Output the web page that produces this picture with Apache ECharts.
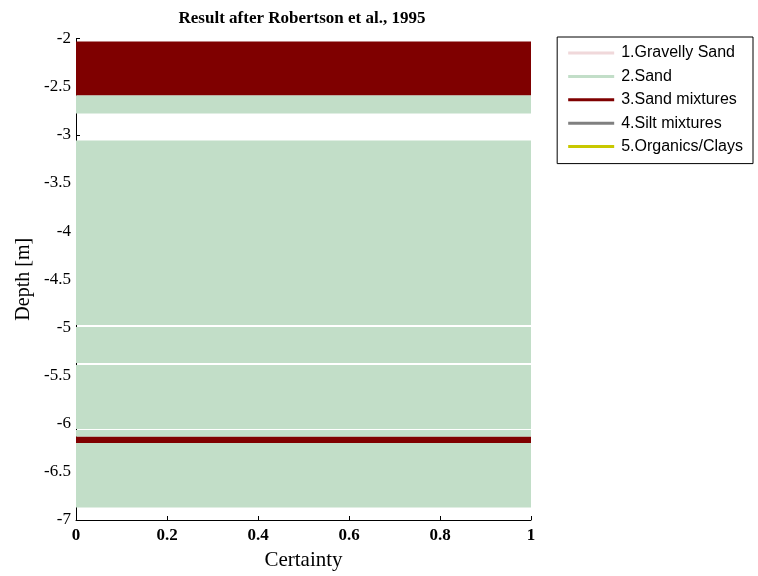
<!DOCTYPE html>
<html><head><meta charset="utf-8">
<script src="https://cdn.jsdelivr.net/npm/echarts@6/dist/echarts.min.js"></script>
<style>html,body{margin:0;padding:0;background:#fff}#c{width:758px;height:576px}</style>
</head><body><div id="c"></div>
<script>
// Soil classes
const classNames = ['1.Gravelly Sand','2.Sand','3.Sand mixtures','4.Silt mixtures','5.Organics/Clays'];
const classColors = ['#f0d8da','#c2dec8','#7f0000','#808080','#c8c800'];
// Layers: depth top, depth bottom, class index (1-based), certainty
const layerTop    = [-2.03, -2.59, -3.06, -4.995, -5.39, -6.065, -6.135, -6.20];
const layerBottom = [-2.59, -2.78, -4.975, -5.37, -6.055, -6.135, -6.20, -6.87];
const layerClass  = [3, 2, 2, 2, 2, 2, 3, 2];
const layerCertainty = [1, 1, 1, 1, 1, 1, 1, 1];
const yTicks = [-7, -6.5, -6, -5.5, -5, -4.5, -4, -3.5, -3, -2.5, -2];
const xTicks = [0, 0.2, 0.4, 0.6, 0.8, 1];

const serif = '"Liberation Serif","DejaVu Serif",serif';
const sans = '"Liberation Sans",Arial,sans-serif';

const series = classNames.map((name, ci) => {
  const data = [];
  for (let i = 0; i < layerTop.length; i++) {
    if (layerClass[i] === ci + 1) data.push([0, layerCertainty[i], layerTop[i], layerBottom[i]]);
  }
  return {
    name: name,
    type: 'custom',
    color: classColors[ci],
    renderItem: function (params, api) {
      const p0 = api.coord([api.value(0), api.value(2)]);
      const p1 = api.coord([api.value(1), api.value(3)]);
      return {
        type: 'rect',
        shape: { x: p0[0], y: p0[1], width: p1[0] - p0[0], height: p1[1] - p0[1] },
        style: { fill: classColors[ci] }
      };
    },
    encode: { x: [0, 1], y: [2, 3] },
    data: data
  };
});

const chart = echarts.init(document.getElementById('c'), null, { renderer: 'canvas' });
chart.setOption({
  animation: false,
  backgroundColor: '#fff',
  title: {
    text: 'Result after Robertson et al., 1995',
    left: 297, textAlign: 'center', top: 5,
    textStyle: { fontFamily: serif, fontWeight: 'bold', fontSize: 17, color: '#000' }
  },
  legend: {
    orient: 'vertical',
    right: 5, top: 37,
    data: classNames,
    icon: 'rect',
    itemWidth: 46, itemHeight: 3,
    itemGap: 7.4,
    padding: [8, 10, 9, 11],
    borderColor: '#000', borderWidth: 1,
    backgroundColor: '#fff',
    textStyle: { fontFamily: sans, fontSize: 16, color: '#000', lineHeight: 16, padding: [0, 0, 0, 2] }
  },
  grid: { left: 76, right: 227, top: 38.5, bottom: 55.5, containLabel: false },
  xAxis: {
    type: 'value', min: 0, max: 1, interval: 0.2,
    name: 'Certainty', nameLocation: 'middle', nameGap: 30,
    nameTextStyle: { fontFamily: serif, fontSize: 21, color: '#000' },
    axisLine: { show: true, lineStyle: { color: '#000', width: 1 } },
    axisTick: { show: true, inside: true, length: 4, lineStyle: { color: '#000' } },
    axisLabel: { fontFamily: serif, fontWeight: 'bold', fontSize: 17, color: '#000', margin: 7 },
    splitLine: { show: false }
  },
  yAxis: {
    type: 'value', min: -7, max: -2, interval: 0.5,
    name: 'Depth [m]', nameLocation: 'middle', nameGap: 42,
    nameMoveOverlap: false,
    nameTextStyle: { fontFamily: serif, fontSize: 20, color: '#000' },
    axisLine: { show: true, lineStyle: { color: '#000', width: 1 } },
    axisTick: { show: true, inside: true, length: 4, lineStyle: { color: '#000' } },
    axisLabel: { fontFamily: serif, fontSize: 17, color: '#000', margin: 5 },
    splitLine: { show: false }
  },
  series: series
});
</script></body></html>
